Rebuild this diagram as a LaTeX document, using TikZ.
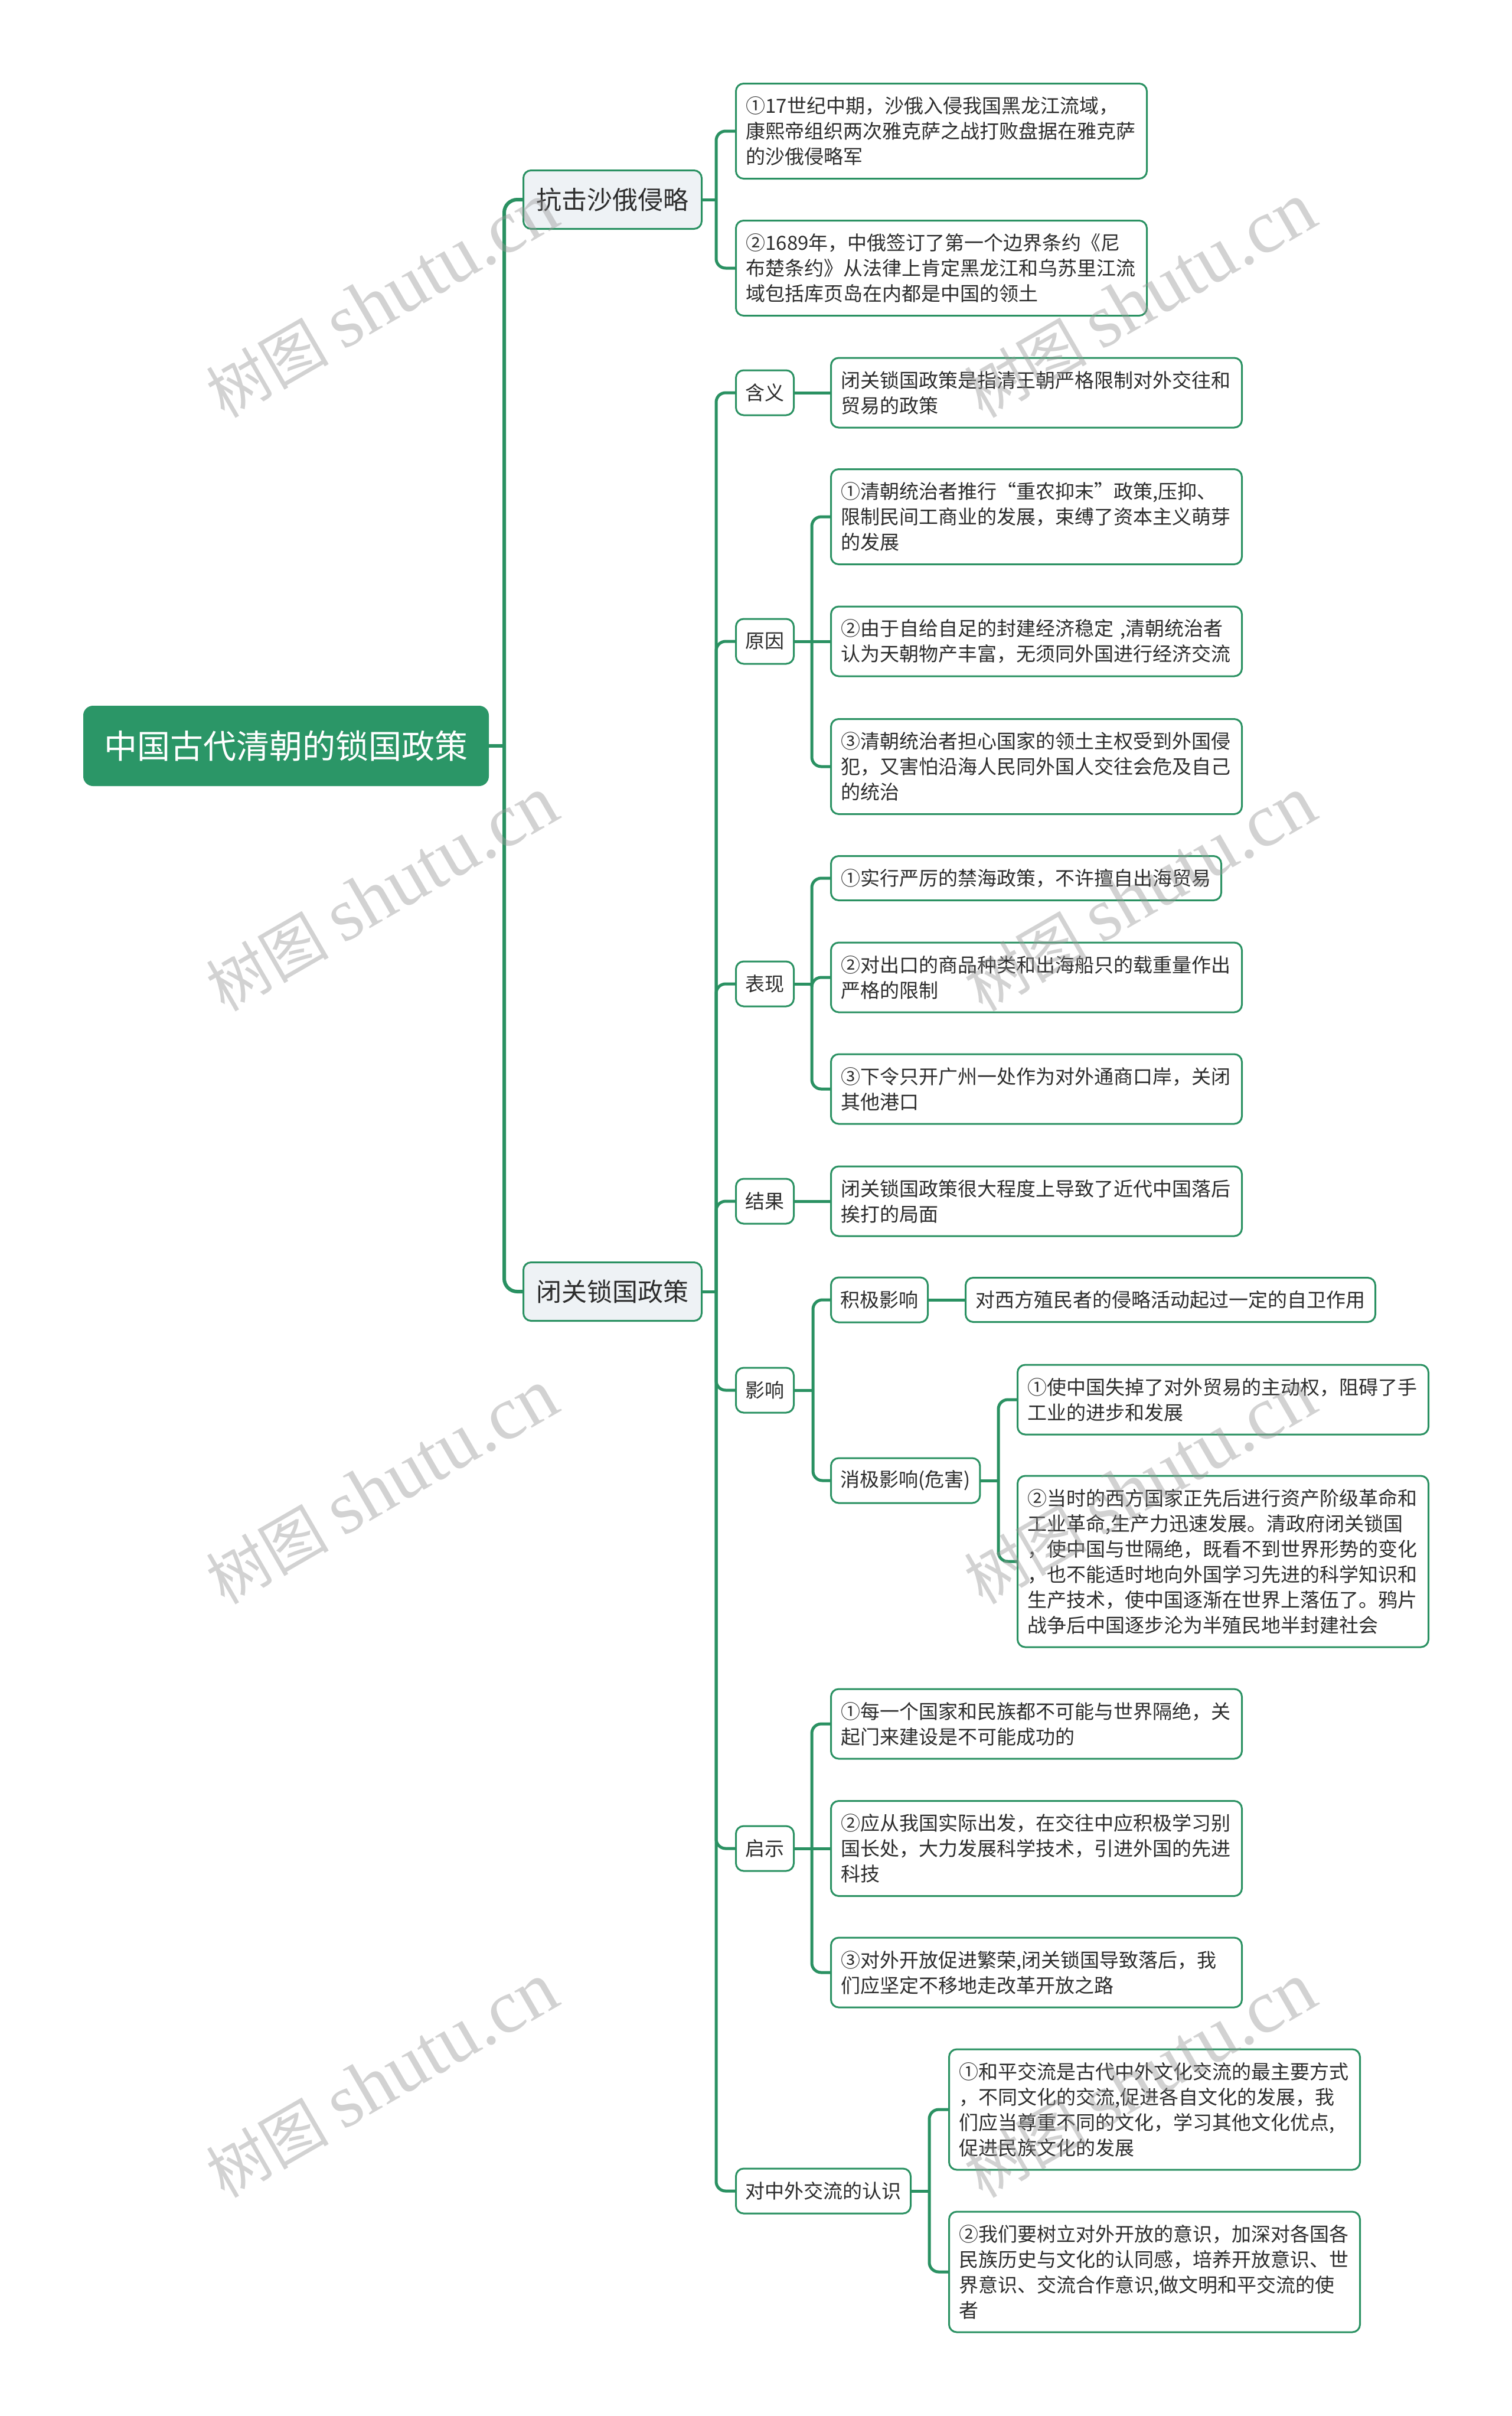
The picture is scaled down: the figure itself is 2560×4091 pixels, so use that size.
\documentclass[tikz,border=0pt]{standalone}
\usepackage{fontspec}
\setmainfont{Noto Sans CJK SC}
\newfontfamily\wmserif{Liberation Serif}
\definecolor{lg}{RGB}{42,145,98}
\definecolor{rootg}{RGB}{43,150,103}
\definecolor{lfill}{RGB}{238,242,245}
\definecolor{tx}{RGB}{45,45,45}
\definecolor{wm}{RGB}{150,150,150}
\begin{document}
\begin{tikzpicture}[x=0.5pt,y=-0.5pt,
 mmbox/.style={draw=lg, line width=1.5pt, rounded corners=6.5pt, text=tx, inner ysep=0pt, align=left},
 rootnode/.style={mmbox, fill=rootg, draw=rootg, text=white, font=\fontsize{28pt}{34pt}\selectfont, minimum width=342pt, minimum height=66.5pt, inner xsep=17pt, align=center, rounded corners=7.5pt},
 lvone/.style={mmbox, fill=lfill, font=\fontsize{21.5pt}{27pt}\selectfont, minimum width=151pt, minimum height=49.5pt, inner xsep=11pt, align=center},
 lab/.style={mmbox, fill=white, font=\fontsize{16.5pt}{21.5pt}\selectfont, minimum height=38pt, inner xsep=8pt, align=center},
 leaf/.style={mmbox, fill=white, font=\fontsize{16.5pt}{21.5pt}\selectfont, inner xsep=8.5pt},
 leafw/.style={leaf, text width=331pt},
 hone/.style={minimum height=37.5pt},
 htwo/.style={minimum height=59pt},
 hthree/.style={minimum height=80.5pt},
 hfour/.style={minimum height=102pt},
 hsix/.style={minimum height=145pt},
 conn/.style={draw=lg, line width=2.5pt, rounded corners=8pt},
 connroot/.style={draw=lg, line width=3pt, rounded corners=11pt},
 wmark/.style={text=wm, opacity=0.42, rotate=30, inner sep=0pt}
]
\useasboundingbox (0,0) rectangle (2560,4091);
\fill[white] (0,0) rectangle (2560,4091);

% root and level 1
\node[rootnode, anchor=west] (root) at (141,1263) {中国古代清朝的锁国政策};
\node[lvone, anchor=west] (k) at (885,338) {抗击沙俄侵略};
\node[lvone, anchor=west] (b) at (885,2187) {闭关锁国政策};

% 抗击沙俄侵略
\node[leafw, hthree, anchor=west] (k1) at (1245,222) {①17世纪中期，沙俄入侵我国黑龙江流域，\\康熙帝组织两次雅克萨之战打败盘据在雅克萨\\的沙俄侵略军};
\node[leafw, hthree, anchor=west] (k2) at (1245,454) {②1689年，中俄签订了第一个边界条约《尼\\布楚条约》从法律上肯定黑龙江和乌苏里江流\\域包括库页岛在内都是中国的领土};

% labels
\node[lab, anchor=west] (hy) at (1245,665) {含义};
\node[lab, anchor=west] (yy) at (1245,1086) {原因};
\node[lab, anchor=west] (bx) at (1245,1666) {表现};
\node[lab, anchor=west] (jg) at (1245,2034) {结果};
\node[lab, anchor=west] (ys) at (1245,2354) {影响};
\node[lab, anchor=west] (qs) at (1245,3130) {启示};
\node[lab, anchor=west] (rs) at (1245,3710) {对中外交流的认识};

% 含义
\node[leafw, htwo, anchor=west] (hy1) at (1406,665) {闭关锁国政策是指清王朝严格限制对外交往和\\贸易的政策};
% 原因
\node[leafw, hthree, anchor=west] (yy1) at (1406,875) {①清朝统治者推行“重农抑末”政策,压抑、\\限制民间工商业的发展，束缚了资本主义萌芽\\的发展};
\node[leafw, htwo, anchor=west] (yy2) at (1406,1086) {②由于自给自足的封建经济稳定 ,清朝统治者\\认为天朝物产丰富，无须同外国进行经济交流};
\node[leafw, hthree, anchor=west] (yy3) at (1406,1298) {③清朝统治者担心国家的领土主权受到外国侵\\犯，又害怕沿海人民同外国人交往会危及自己\\的统治};
% 表现
\node[leaf, hone, anchor=west] (bx1) at (1406,1487) {①实行严厉的禁海政策，不许擅自出海贸易};
\node[leafw, htwo, anchor=west] (bx2) at (1406,1655) {②对出口的商品种类和出海船只的载重量作出\\严格的限制};
\node[leafw, htwo, anchor=west] (bx3) at (1406,1844) {③下令只开广州一处作为对外通商口岸，关闭\\其他港口};
% 结果
\node[leafw, htwo, anchor=west] (jg1) at (1406,2034) {闭关锁国政策很大程度上导致了近代中国落后\\挨打的局面};
% 影响
\node[lab, anchor=west] (jj) at (1406,2201) {积极影响};
\node[leaf, hone, anchor=west] (jj1) at (1634,2201) {对西方殖民者的侵略活动起过一定的自卫作用};
\node[lab, anchor=west] (xj) at (1406,2507) {消极影响(危害)};
\node[leafw, htwo, anchor=west] (xj1) at (1722,2370) {①使中国失掉了对外贸易的主动权，阻碍了手\\工业的进步和发展};
\node[leafw, hsix, anchor=west] (xj2) at (1722,2644) {②当时的西方国家正先后进行资产阶级革命和\\工业革命,生产力迅速发展。清政府闭关锁国\\，使中国与世隔绝，既看不到世界形势的变化\\，也不能适时地向外国学习先进的科学知识和\\生产技术，使中国逐渐在世界上落伍了。鸦片\\战争后中国逐步沦为半殖民地半封建社会};
% 启示
\node[leafw, htwo, anchor=west] (qs1) at (1406,2919) {①每一个国家和民族都不可能与世界隔绝，关\\起门来建设是不可能成功的};
\node[leafw, hthree, anchor=west] (qs2) at (1406,3130) {②应从我国实际出发，在交往中应积极学习别\\国长处，大力发展科学技术，引进外国的先进\\科技};
\node[leafw, htwo, anchor=west] (qs3) at (1406,3340) {③对外开放促进繁荣,闭关锁国导致落后，我\\们应坚定不移地走改革开放之路};
% 对中外交流的认识
\node[leafw, hfour, anchor=west] (rs1) at (1606,3572) {①和平交流是古代中外文化交流的最主要方式\\，不同文化的交流,促进各自文化的发展，我\\们应当尊重不同的文化，学习其他文化优点,\\促进民族文化的发展};
\node[leafw, hfour, anchor=west] (rs2) at (1606,3847) {②我们要树立对外开放的意识，加深对各国各\\民族历史与文化的认同感，培养开放意识、世\\界意识、交流合作意识,做文明和平交流的使\\者};

% junction coordinates
\coordinate (jroot) at (854,1263);
\coordinate (jk) at (1213,338);
\coordinate (jb) at (1213,2187);
\coordinate (jyy) at (1375,1086);
\coordinate (jbx) at (1375,1666);
\coordinate (jys) at (1377,2354);
\coordinate (jxj) at (1691,2507);
\coordinate (jqs) at (1375,3130);
\coordinate (jrs) at (1574,3710);

% connectors
\draw[connroot] (root.east) -- (jroot);
\draw[connroot] (jroot) |- (k.west);
\draw[connroot] (jroot) |- (b.west);

\draw[conn] (k.east) -- (jk);
\draw[conn] (jk) |- (k1.west);
\draw[conn] (jk) |- (k2.west);

\draw[conn] (b.east) -- (jb);
\foreach \n in {hy,yy,bx,jg,ys,qs,rs} {\draw[conn] (jb) |- (\n.west);}

\draw[conn] (hy.east) -- (hy1.west);

\draw[conn] (yy.east) -- (jyy);
\draw[conn] (jyy) |- (yy1.west);
\draw[conn] (jyy) -- (yy2.west);
\draw[conn] (jyy) |- (yy3.west);

\draw[conn] (bx.east) -- (jbx);
\draw[conn] (jbx) |- (bx1.west);
\draw[conn] (jbx) |- (bx2.west);
\draw[conn] (jbx) |- (bx3.west);

\draw[conn] (jg.east) -- (jg1.west);

\draw[conn] (ys.east) -- (jys);
\draw[conn] (jys) |- (jj.west);
\draw[conn] (jys) |- (xj.west);
\draw[conn] (jj.east) -- (jj1.west);
\draw[conn] (xj.east) -- (jxj);
\draw[conn] (jxj) |- (xj1.west);
\draw[conn] (jxj) |- (xj2.west);

\draw[conn] (qs.east) -- (jqs);
\draw[conn] (jqs) |- (qs1.west);
\draw[conn] (jqs) -- (qs2.west);
\draw[conn] (jqs) |- (qs3.west);

\draw[conn] (rs.east) -- (jrs);
\draw[conn] (jrs) |- (rs1.west);
\draw[conn] (jrs) |- (rs2.west);

% watermarks
\foreach \wx in {647,1931} {
  \foreach \wy in {509,1514,2518,3523} {
    \node[wmark] at (\wx,\wy) {\fontsize{52pt}{60pt}\selectfont 树图 {\wmserif\fontsize{64pt}{70pt}\selectfont shutu.cn}};
  }
}
\end{tikzpicture}
\end{document}
